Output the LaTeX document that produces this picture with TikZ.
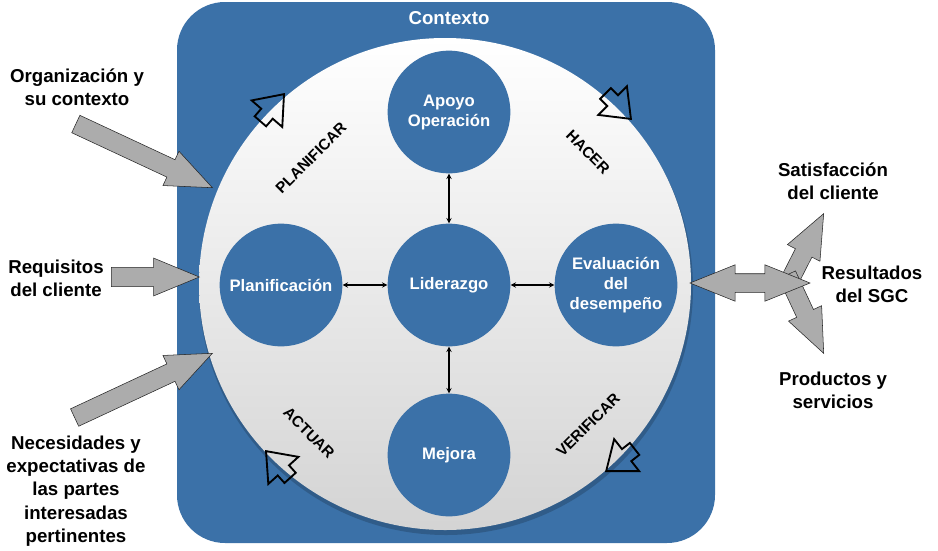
\documentclass[tikz,border=0pt]{standalone}
\usepackage{fontspec}
\setmainfont{Liberation Sans}
\usetikzlibrary{shapes.arrows}
\definecolor{ctxblue}{RGB}{59,113,168}
\definecolor{arrgray}{RGB}{172,172,172}

\begin{document}
\begin{tikzpicture}[x=0.75pt,y=0.75pt,yscale=-1,xscale=1,
  proc/.style={circle, fill=ctxblue, minimum size=92pt, inner sep=0pt, align=center, text=white, font=\fontsize{12.5}{15}\selectfont\bfseries},
  lbl/.style={align=center, font=\fontsize{14}{17.5}\selectfont\bfseries},
  phase/.style={font=\fontsize{11.5}{14}\selectfont\bfseries},
  inarrow/.style={single arrow, anchor=tip, draw=black!85, fill=arrgray, inner xsep=0pt, inner ysep=7pt, single arrow head extend=7pt, single arrow tip angle=45},
  cursor/.style={single arrow, anchor=tip, draw=black, line width=1.4pt, inner xsep=0pt, inner ysep=5pt, minimum height=27pt, single arrow head extend=9.5pt, single arrow tip angle=76},
  link/.style={<->, >=stealth, line width=0.8pt}]
\useasboundingbox (0,0) rectangle (938,550);

%Shape: Rounded Rect (contexto)
\draw [fill=ctxblue, draw=none, rounded corners=36pt] (177,2) rectangle (715,543);
% Text Node
\node [text=white, font=\fontsize{14}{17}\selectfont\bfseries] (ctxlbl) at (449,18) {Contexto};

%Shape: shadow + big circle
\fill [black, opacity=0.18] (446,288) circle [radius=247];
\node [circle, minimum size=369pt, inner sep=0pt, top color=white, bottom color=black!17] (plano) at (445,284) {};

% process circles
\node [proc] (apoyo)  at (449,112) {Apoyo\\Operación};
\node [proc] (lider)  at (449,285) {Liderazgo};
\node [proc] (planif) at (281,285) {Planificación};
\node [proc] (evalua) at (616,285) {Evaluación\\del\\desempeño};
\node [proc] (mejora) at (449,455) {Mejora};

\draw [link] (apoyo) -- (lider);
\draw [link] (planif) -- (lider);
\draw [link] (lider) -- (evalua);
\draw [link] (lider) -- (mejora);

% phases
\node [phase, rotate=45]  (plan)  at (311,158) {PLANIFICAR};
\node [phase, rotate=-45] (hacer) at (588,152) {HACER};
\node [phase, rotate=45]  (verif) at (588,425) {VERIFICAR};
\node [phase, rotate=-45] (actuar) at (309,433) {ACTUAR};

\node [cursor, rotate=49]   (curplan)  at (285,93)  {};
\node [cursor, rotate=-45]  (curhacer) at (632,120) {};
\node [cursor, rotate=-142] (curverif) at (605,472) {};
\node [cursor, rotate=132]  (curact)   at (265,450) {};

% inputs
\node [lbl] (orgctx)  at (77,87)  {Organización y\\su contexto};
\node [lbl] (reqcli)  at (56,278) {Requisitos\\del cliente};
\node [lbl] (necpart) at (76,491) {Necesidades y\\expectativas de\\las partes\\interesadas\\pertinentes};

\node [inarrow, minimum height=113pt, rotate=-25] (arrorg) at (213,188) {};
\node [inarrow, minimum height=66pt] (arrreq) at (200,277) {};
\node [inarrow, minimum height=114pt, rotate=25] (arrnec) at (213,353) {};

% outputs
\node [inarrow, minimum height=64pt, inner ysep=6.75pt, single arrow head extend=6.75pt, rotate=63] (arrsat) at (824,213) {};
\node [inarrow, minimum height=65pt, inner ysep=6.75pt, single arrow head extend=6.75pt, rotate=-65] (arrprod) at (824,354) {};
\node [double arrow, draw=black!85, fill=arrgray, inner xsep=0pt, inner ysep=6.75pt, minimum height=90pt, double arrow head extend=6.75pt, double arrow tip angle=44] (arrres) at (750,283) {};

\node [lbl] (satcli)   at (833,181) {Satisfacción\\del cliente};
\node [lbl] (resSGC)   at (872,284) {Resultados\\del SGC};
\node [lbl] (prodserv) at (833,390) {Productos y\\servicios};

\end{tikzpicture}
\end{document}
